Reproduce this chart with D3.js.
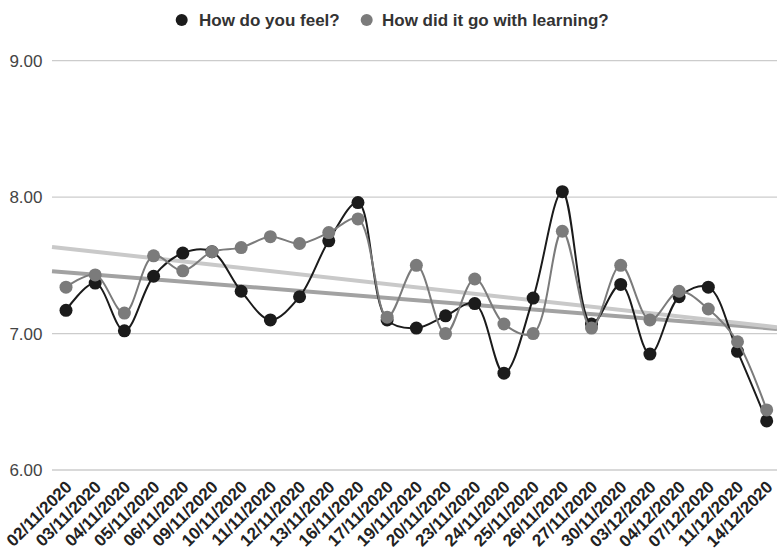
<!DOCTYPE html>
<html>
<head>
<meta charset="utf-8">
<script src="https://cdn.jsdelivr.net/npm/d3@7"></script>
<style>
  html, body { margin: 0; padding: 0; background: #fff; }
  svg { display: block; font-family: "Liberation Sans", Arial, sans-serif; }
</style>
</head>
<body>
<svg id="chart" width="777" height="551"></svg>
<script>
// Survey dates (category axis)
const dates = [
  "02/11/2020", "03/11/2020", "04/11/2020", "05/11/2020", "06/11/2020",
  "09/11/2020", "10/11/2020", "11/11/2020", "12/11/2020", "13/11/2020",
  "16/11/2020", "17/11/2020", "19/11/2020", "20/11/2020", "23/11/2020",
  "24/11/2020", "25/11/2020", "26/11/2020", "27/11/2020", "30/11/2020",
  "03/12/2020", "04/12/2020", "07/12/2020", "11/12/2020", "14/12/2020"
];

// Average answers per day
const feel = [
  7.17, 7.37, 7.02, 7.42, 7.59, 7.60, 7.31, 7.10, 7.27, 7.68,
  7.96, 7.10, 7.04, 7.13, 7.22, 6.71, 7.26, 8.04, 7.07, 7.36,
  6.85, 7.27, 7.34, 6.87, 6.36
];
const learning = [
  7.34, 7.43, 7.15, 7.57, 7.46, 7.60, 7.63, 7.71, 7.66, 7.74,
  7.84, 7.12, 7.50, 7.00, 7.40, 7.07, 7.00, 7.75, 7.04, 7.50,
  7.10, 7.31, 7.18, 6.94, 6.44
];

const yTicks = [6, 7, 8, 9];

const seriesNames = ["How do you feel?", "How did it go with learning?"];

const svg = d3.select("#chart");
const plotLeft = 52, plotRight = 777;

const x = d3.scalePoint().domain(dates).range([66, 766.7]);
const y = d3.scaleLinear().domain([6, 9]).range([470, 60.7]);

// Gridlines
svg.append("g")
  .selectAll("line")
  .data(yTicks)
  .join("line")
  .attr("x1", plotLeft).attr("x2", plotRight)
  .attr("y1", d => y(d)).attr("y2", d => y(d))
  .attr("stroke", "#cccccc").attr("stroke-width", 1.3);

// Y axis labels
svg.append("g")
  .selectAll("text")
  .data(yTicks)
  .join("text")
  .attr("x", 42.5)
  .attr("y", d => y(d))
  .attr("dy", "0.36em")
  .attr("text-anchor", "end")
  .attr("font-size", 17)
  .attr("fill", "#444")
  .text(d => d3.format(".2f")(d));

// X axis labels (rotated)
svg.append("g")
  .selectAll("text")
  .data(dates)
  .join("text")
  .attr("transform", d => `translate(${x(d) + 7},${488}) rotate(-45)`)
  .attr("text-anchor", "end")
  .attr("font-size", 17)
  .attr("font-weight", "bold")
  .attr("fill", "#222")
  .text(d => d);

// Linear trend lines (least squares over category index)
function linearFit(values) {
  const xs = values.map((_, i) => i);
  const mx = d3.mean(xs), my = d3.mean(values);
  let sxy = 0, sxx = 0;
  xs.forEach((xi, i) => { sxy += (xi - mx) * (values[i] - my); sxx += (xi - mx) * (xi - mx); });
  const slope = sxy / sxx;
  return i => my + slope * (i - mx);
}
const step = x.step();
const idxAt = px => (px - x(dates[0])) / step;

const trends = [
  { values: feel, color: "#a2a2a2" },
  { values: learning, color: "#c9c9c9" }
];
svg.append("g")
  .selectAll("line")
  .data(trends)
  .join("line")
  .attr("x1", plotLeft)
  .attr("x2", plotRight)
  .attr("y1", d => y(linearFit(d.values)(idxAt(plotLeft))))
  .attr("y2", d => y(linearFit(d.values)(idxAt(plotRight))))
  .attr("stroke", d => d.color)
  .attr("stroke-width", 4);

// Series lines and points
const series = [
  { name: seriesNames[0], values: feel, color: "#1b1b1b" },
  { name: seriesNames[1], values: learning, color: "#7b7b7b" }
];
const line = d3.line()
  .x((d, i) => x(dates[i]))
  .y(d => y(d))
  .curve(d3.curveCatmullRom.alpha(0.5));

series.forEach(s => {
  const g = svg.append("g");
  g.append("path")
    .attr("d", line(s.values))
    .attr("fill", "none")
    .attr("stroke", s.color)
    .attr("stroke-width", 2);
  g.selectAll("circle")
    .data(s.values)
    .join("circle")
    .attr("cx", (d, i) => x(dates[i]))
    .attr("cy", d => y(d))
    .attr("r", 6.5)
    .attr("fill", s.color);
});

// Legend
const legendItems = [
  { name: seriesNames[0], color: "#1b1b1b", cx: 181.7, tx: 199 },
  { name: seriesNames[1], color: "#7b7b7b", cx: 366.7, tx: 382 }
];
const lg = svg.append("g");
legendItems.forEach(it => {
  lg.append("circle").attr("cx", it.cx).attr("cy", 20).attr("r", 6).attr("fill", it.color);
  lg.append("text")
    .attr("x", it.tx).attr("y", 26)
    .attr("font-size", 17)
    .attr("font-weight", "bold")
    .attr("fill", "#333")
    .text(it.name);
});
</script>
</body>
</html>
